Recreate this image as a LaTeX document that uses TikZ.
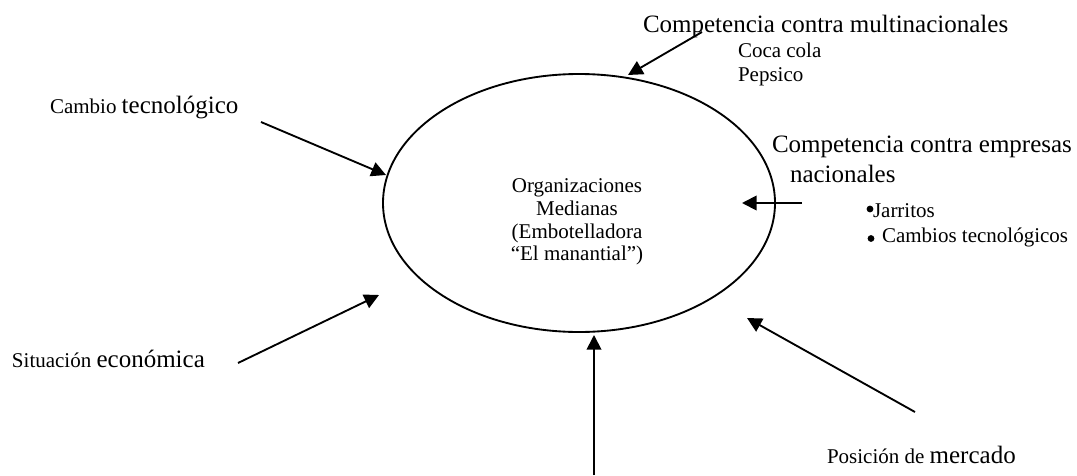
\documentclass[tikz,border=0pt]{standalone}
\usepackage{fontspec}
\setmainfont{Liberation Serif}
\usetikzlibrary{arrows.meta,shapes.geometric}
% two text sizes used throughout
\newcommand\bigtx{\fontsize{18.75pt}{22pt}\selectfont}
\newcommand\smalltx{\fontsize{15.75pt}{18pt}\selectfont}
\begin{document}
\begin{tikzpicture}[x=0.75pt,y=-0.75pt,
  lbl/.style={inner sep=0pt, outer sep=0pt, anchor=base west},
  ctr/.style={inner sep=0pt, outer sep=0pt, anchor=base, font=\smalltx},
  force/.style={line width=1.4pt, -{Triangle[length=11pt,width=11pt]}},
  dot/.style={fill=black}]
\useasboundingbox (0,0) rectangle (1077,475);

% central organisation
\node[draw, ellipse, line width=1.4pt, inner sep=0pt, minimum width=294pt,
      minimum height=193.5pt] (org) at (579,203) {};
\node[ctr] (t1) at (577,192) {Organizaciones};
\node[ctr] (t2) at (577,215) {Medianas};
\node[ctr] (t3) at (577,238) {(Embotelladora};
\node[ctr] (t4) at (577,260) {“El manantial”)};

% surrounding forces
\node[lbl, font=\bigtx] (multi) at (643,32) {Competencia contra multinacionales};
\node[lbl, font=\smalltx] (coca) at (738,57) {Coca cola};
\node[lbl, font=\smalltx] (pepsi) at (738,81) {Pepsico};

\node[lbl] (tec) at (50,113) {\smalltx Cambio \bigtx tecnológico};

\node[lbl, font=\bigtx] (emp1) at (772,152) {Competencia contra empresas};
\node[lbl, font=\bigtx] (emp2) at (790,182) {nacionales};
\node[lbl, font=\smalltx] (jarr) at (873,217) {Jarritos};
\node[lbl, font=\smalltx] (camb) at (882,242) {Cambios tecnológicos};
\fill[dot] (870,209) circle (3.4);
\fill[dot] (871,238.5) circle (3.4);

\node[lbl] (eco) at (12,367) {\smalltx Situación \bigtx económica};
\node[lbl] (pos) at (827,463) {\smalltx Posición de \bigtx mercado};

% arrow end points
\coordinate (aTop) at (702,32);   \coordinate (hTop) at (628,75);
\coordinate (aTec) at (261,122);  \coordinate (hTec) at (386,175);
\coordinate (aEmp) at (802,203);  \coordinate (hEmp) at (742,203);
\coordinate (aEco) at (238,363);  \coordinate (hEco) at (379,295);
\coordinate (aBot) at (594,475);  \coordinate (hBot) at (594,335);
\coordinate (aPos) at (915,412);  \coordinate (hPos) at (747,318);

\draw[force] (aTop) -- (hTop);
\draw[force] (aTec) -- (hTec);
\draw[force] (aEmp) -- (hEmp);
\draw[force] (aEco) -- (hEco);
\draw[force] (aBot) -- (hBot);
\draw[force] (aPos) -- (hPos);
\end{tikzpicture}
\end{document}
